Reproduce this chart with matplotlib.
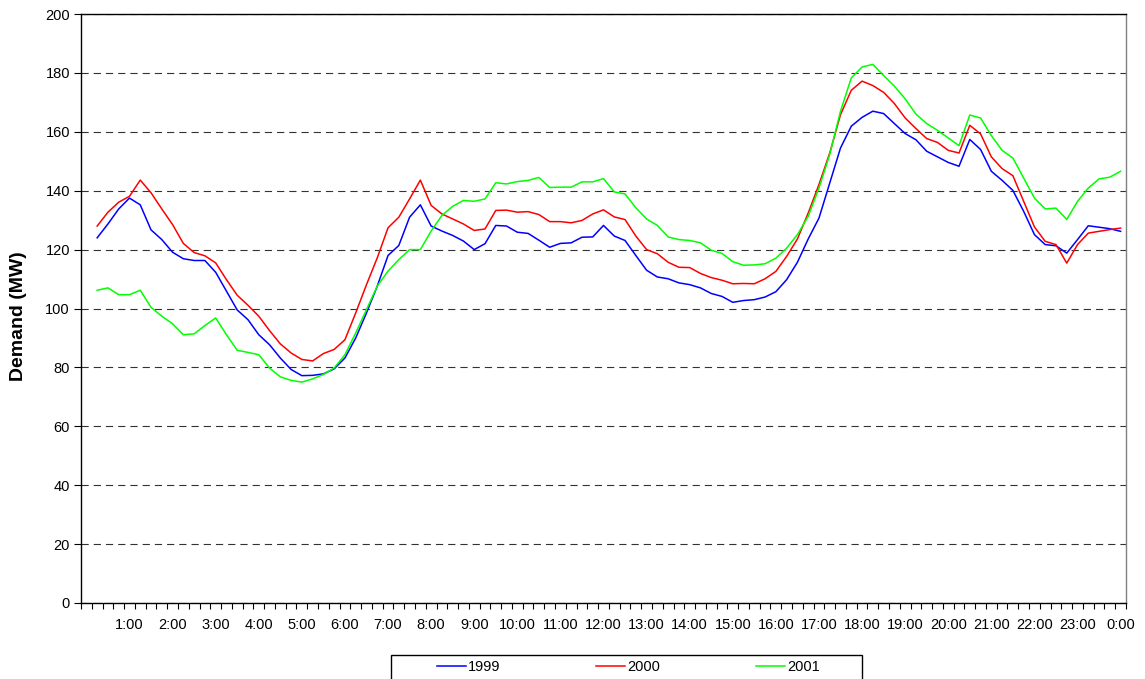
import numpy as np
import matplotlib
matplotlib.use("Agg")
import matplotlib.pyplot as plt
from matplotlib.patches import Rectangle

plt.rcParams['font.family'] = ['Liberation Sans', 'DejaVu Sans']

# 15-minute readings from 0:15 to 0:00 (next day)
demand_1999 = [124.0, 128.7, 133.8, 137.5, 135.2, 126.7, 123.4, 119.1, 116.9, 116.3,
               116.3, 112.3, 105.9, 99.5, 96.2, 91.1, 87.7, 83.2, 79.3, 77.2,
               77.3, 77.8, 79.5, 83.2, 90.0, 98.5, 107.6, 118.0, 121.4, 131.0,
               135.2, 128.0, 126.3, 124.8, 122.9, 120.0, 122.0, 128.2, 128.0, 125.9,
               125.5, 123.2, 120.8, 122.1, 122.3, 124.2, 124.3, 128.2, 124.6, 123.1,
               118.0, 113.0, 110.7, 110.1, 108.7, 108.1, 107.0, 105.1, 104.1, 102.1,
               102.7, 103.0, 103.9, 105.7, 109.8, 115.7, 123.6, 130.7, 142.6, 154.5,
               161.9, 164.9, 167.0, 166.2, 162.8, 159.4, 157.3, 153.4, 151.5, 149.6,
               148.3, 157.4, 154.0, 146.6, 143.5, 140.1, 133.0, 125.1, 121.7, 121.3,
               118.8, 123.4, 128.1, 127.6, 127.1, 126.2]
demand_2000 = [128.0, 132.7, 136.1, 138.1, 143.6, 139.3, 133.8, 128.5, 122.1, 119.0,
               117.9, 115.5, 109.8, 104.5, 101.1, 97.4, 92.5, 88.0, 84.9, 82.7,
               82.2, 84.7, 86.1, 89.4, 98.5, 108.1, 117.2, 127.4, 131.0, 137.2,
               143.6, 135.0, 132.1, 130.4, 128.7, 126.5, 127.0, 133.3, 133.4, 132.7,
               132.9, 131.9, 129.5, 129.5, 129.1, 129.9, 132.1, 133.5, 131.1, 130.2,
               124.6, 120.0, 118.6, 115.7, 114.0, 113.9, 111.9, 110.5, 109.6, 108.4,
               108.5, 108.4, 110.1, 112.6, 117.7, 123.6, 132.4, 142.1, 152.8, 165.8,
               174.1, 177.2, 175.7, 173.4, 169.6, 164.7, 161.1, 157.7, 156.4, 153.7,
               152.8, 162.2, 159.3, 151.5, 147.5, 145.1, 136.4, 127.7, 122.8, 121.7,
               115.4, 121.7, 125.6, 126.2, 126.8, 127.3]
demand_2001 = [106.2, 107.0, 104.7, 104.7, 106.2, 100.4, 97.4, 94.8, 91.1, 91.4,
               94.2, 96.8, 91.1, 85.8, 85.1, 84.3, 79.8, 76.8, 75.6, 75.0,
               76.1, 77.6, 79.8, 84.3, 91.7, 99.6, 107.6, 112.7, 116.6, 120.0,
               120.0, 126.3, 131.6, 134.7, 136.7, 136.4, 137.2, 142.7, 142.3, 143.1,
               143.5, 144.5, 141.1, 141.2, 141.2, 143.0, 143.0, 144.1, 139.6, 138.9,
               134.2, 130.4, 128.2, 124.3, 123.4, 123.1, 122.3, 119.8, 118.7, 115.9,
               114.7, 114.8, 115.2, 117.1, 120.5, 125.1, 131.3, 140.9, 152.3, 167.0,
               178.3, 182.0, 182.9, 179.1, 175.5, 171.2, 166.0, 162.8, 160.5, 157.9,
               155.3, 165.7, 164.7, 158.7, 153.7, 151.1, 144.3, 137.5, 133.8, 134.1,
               130.2, 136.4, 140.9, 144.0, 144.6, 146.6]
years = ['1999', '2000', '2001']
colors = ['#0000FF', '#FF0000', '#00FF00']
hour_labels = ['%d:00' % (h % 24) for h in range(1, 25)]

# category axis: 97 slots (0:00 .. 0:00), data fills slots 2..97
n_cat = 97
x = np.arange(2, n_cat + 1)

W, H = 1145, 679
fig = plt.figure(figsize=(W / 100, H / 100), dpi=100)
ax = fig.add_axes([81 / W, 1 - 603 / H, 1045 / W, 589 / H])

for series, year, c in zip([demand_1999, demand_2000, demand_2001], years, colors):
    ax.plot(x, series, color=c, lw=1.1, label=year)

ax.set_xlim(0.5, n_cat + 0.5)
ax.set_ylim(0, 200)
ax.set_yticks(np.arange(0, 201, 20))
ax.yaxis.grid(True, color='#333333', lw=0.8, linestyle=(0, (6.5, 4.5)))
ax.set_axisbelow(True)

ax.set_xticks(np.arange(0.5, n_cat + 1, 1.0))
ax.set_xticklabels([])
ax.set_xticks(np.arange(5, n_cat + 1, 4), hour_labels, minor=True)
ax.tick_params(axis='x', which='major', length=4, width=0.8, direction='out')
ax.tick_params(axis='x', which='minor', length=0, pad=11, labelsize=10.5)
ax.tick_params(axis='y', length=5, width=0.8, labelsize=10.5, pad=3)

for s in ['left', 'bottom', 'top']:
    ax.spines[s].set_color('black')
    ax.spines[s].set_linewidth(1.0)
ax.spines['right'].set_color('#808080')
ax.spines['right'].set_linewidth(1.0)

ax.set_ylabel('Demand (MW)', fontsize=14, fontweight='bold')
ax.yaxis.set_label_coords((27 - 81) / 1045, (603 - 316) / 589)

# legend: entries spread across, box runs off the bottom edge
leg = ax.legend(loc='upper left', ncol=3, mode='expand',
                bbox_to_anchor=(437 / W, 1 - 661 / H, (820 - 437) / W, 0.001),
                bbox_transform=fig.transFigure, borderaxespad=0, borderpad=0,
                frameon=False, fontsize=10.5,
                handlelength=2.0, handletextpad=0.15)
fig.add_artist(Rectangle((391 / W, -0.05), (862 - 391) / W, (679 - 655) / H + 0.05,
                         transform=fig.transFigure, fill=False,
                         edgecolor='black', lw=1.0, clip_on=False))

fig.savefig('out.png', dpi=100)
